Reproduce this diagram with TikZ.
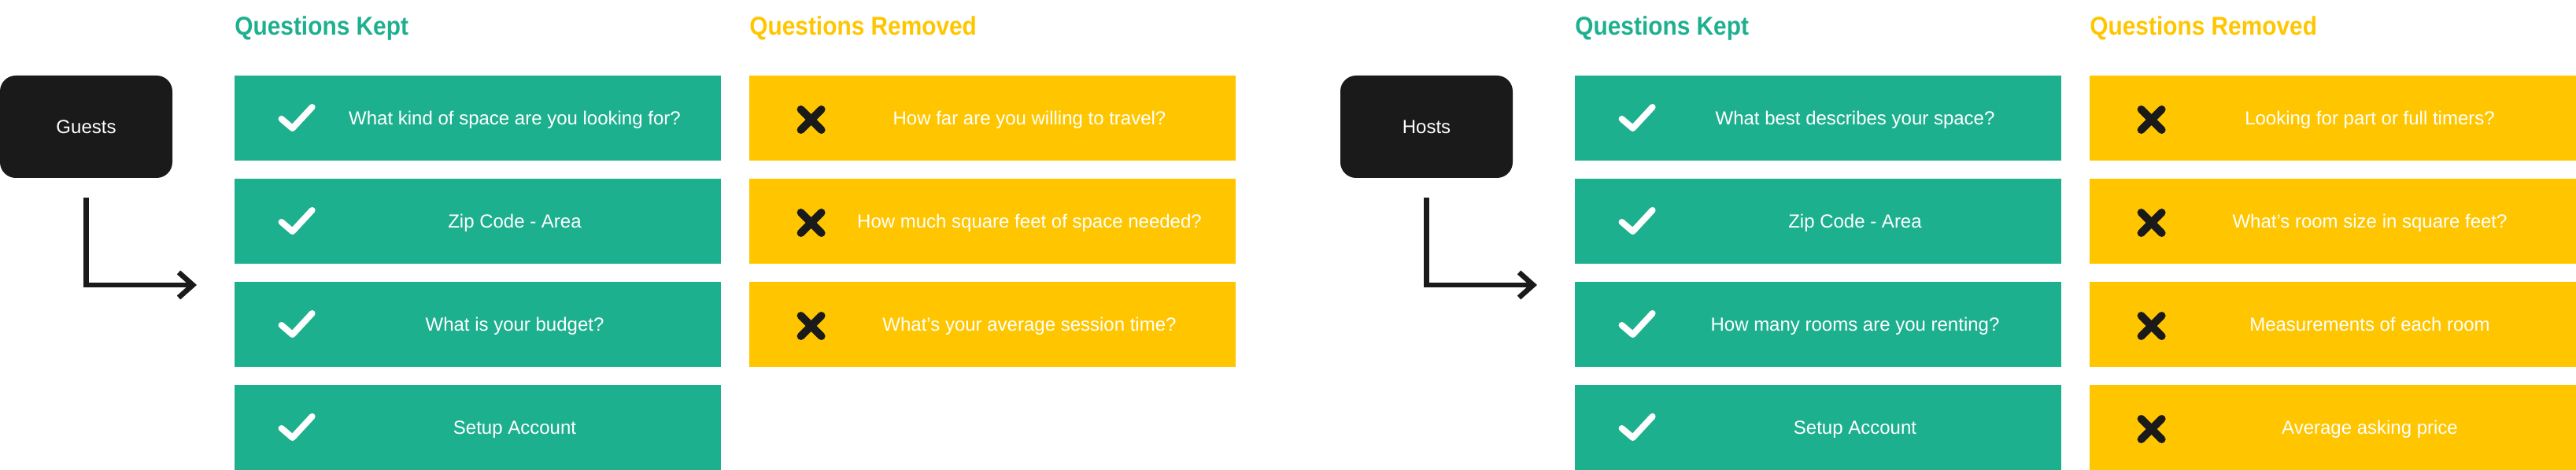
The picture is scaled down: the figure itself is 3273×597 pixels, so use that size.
\documentclass[tikz,border=0pt]{standalone}
\usepackage{fontspec}
\setmainfont{Liberation Sans}
\newfontfamily\headfont{Liberation Sans}[FakeStretch=0.91]
\usetikzlibrary{arrows.meta}

\definecolor{keptgreen}{HTML}{1DB08F}
\definecolor{dropyellow}{HTML}{FFC600}
\definecolor{boxblack}{HTML}{1A1A1A}

\begin{document}
\begin{tikzpicture}[x=0.5pt, y=-0.5pt,
		keptbox/.style={rectangle, fill=keptgreen, minimum width=309pt, minimum height=54pt, inner sep=0pt},
		dropbox/.style={rectangle, fill=dropyellow, minimum width=309pt, minimum height=54pt, inner sep=0pt},
		userbox/.style={rectangle, rounded corners=10pt, fill=boxblack, text=white, minimum width=109.5pt, minimum height=65pt, font=\fontsize{12}{14}\selectfont},
		qtext/.style={anchor=base, text=white, inner sep=0pt, font=\fontsize{12}{14}\selectfont},
		heading/.style={anchor=base west, inner sep=0pt, font=\headfont\bfseries\fontsize{16.4}{18}\selectfont},
		tick/.style={white, line width=4pt, line cap=round, line join=round},
		cross/.style={boxblack, line width=5pt, line cap=round},
		flow/.style={boxblack, line width=3.3pt, -{Straight Barb[length=9pt, width=16pt]}}]

		\fill[white] (0,0) rectangle (3273,597);
		\useasboundingbox (0,0) rectangle (3273,597);

		% guests: user box and headings
		\node[userbox] (guests) at (109.5,161) {Guests};
		\node[heading, text=keptgreen] (gkept) at (298,45) {Questions Kept};
		\node[heading, text=dropyellow] (gdrop) at (952,45) {Questions Removed};

		% guests: questions kept
		\node[keptbox] (gk1) at (607,150) {};
		\node[keptbox] (gk2) at (607,281) {};
		\node[keptbox] (gk3) at (607,412) {};
		\node[keptbox] (gk4) at (607,543) {};
		\node[qtext] at ([shift={(47,9)}]gk1.center) {What kind of space are you looking for?};
		\node[qtext] at ([shift={(47,9)}]gk2.center) {Zip Code - Area};
		\node[qtext] at ([shift={(47,9)}]gk3.center) {What is your budget?};
		\node[qtext] at ([shift={(47,9)}]gk4.center) {Setup Account};
		\draw[tick] ([shift={(60,1)}]gk1.west) -- ++(14,12) -- ++(25,-27);
		\draw[tick] ([shift={(60,1)}]gk2.west) -- ++(14,12) -- ++(25,-27);
		\draw[tick] ([shift={(60,1)}]gk3.west) -- ++(14,12) -- ++(25,-27);
		\draw[tick] ([shift={(60,1)}]gk4.west) -- ++(14,12) -- ++(25,-27);

		% guests: questions removed
		\node[dropbox] (gd1) at (1261,150) {};
		\node[dropbox] (gd2) at (1261,281) {};
		\node[dropbox] (gd3) at (1261,412) {};
		\node[qtext] at ([shift={(47,9)}]gd1.center) {How far are you willing to travel?};
		\node[qtext] at ([shift={(47,9)}]gd2.center) {How much square feet of space needed?};
		\node[qtext] at ([shift={(47,9)}]gd3.center) {What's your average session time?};
		\draw[cross] ([shift={(66,-11)}]gd1.west) -- ++(26,26) ([shift={(66,15)}]gd1.west) -- ++(26,-26);
		\draw[cross] ([shift={(66,-11)}]gd2.west) -- ++(26,26) ([shift={(66,15)}]gd2.west) -- ++(26,-26);
		\draw[cross] ([shift={(66,-11)}]gd3.west) -- ++(26,26) ([shift={(66,15)}]gd3.west) -- ++(26,-26);

		% guests: arrow
		\coordinate (gstart) at ([yshift=-12.5pt]guests.south);
		\coordinate (gend) at (250,362);
		\draw[flow] (gstart) |- (gend);

		% hosts: user box and headings
		\node[userbox] (hosts) at (1812.5,161) {Hosts};
		\node[heading, text=keptgreen] (hkept) at (2001,45) {Questions Kept};
		\node[heading, text=dropyellow] (hdrop) at (2655,45) {Questions Removed};

		% hosts: questions kept
		\node[keptbox] (hk1) at (2310,150) {};
		\node[keptbox] (hk2) at (2310,281) {};
		\node[keptbox] (hk3) at (2310,412) {};
		\node[keptbox] (hk4) at (2310,543) {};
		\node[qtext] at ([shift={(47,9)}]hk1.center) {What best describes your space?};
		\node[qtext] at ([shift={(47,9)}]hk2.center) {Zip Code - Area};
		\node[qtext] at ([shift={(47,9)}]hk3.center) {How many rooms are you renting?};
		\node[qtext] at ([shift={(47,9)}]hk4.center) {Setup Account};
		\draw[tick] ([shift={(60,1)}]hk1.west) -- ++(14,12) -- ++(25,-27);
		\draw[tick] ([shift={(60,1)}]hk2.west) -- ++(14,12) -- ++(25,-27);
		\draw[tick] ([shift={(60,1)}]hk3.west) -- ++(14,12) -- ++(25,-27);
		\draw[tick] ([shift={(60,1)}]hk4.west) -- ++(14,12) -- ++(25,-27);

		% hosts: questions removed
		\node[dropbox] (hd1) at (2964,150) {};
		\node[dropbox] (hd2) at (2964,281) {};
		\node[dropbox] (hd3) at (2964,412) {};
		\node[dropbox] (hd4) at (2964,543) {};
		\node[qtext] at ([shift={(47,9)}]hd1.center) {Looking for part or full timers?};
		\node[qtext] at ([shift={(47,9)}]hd2.center) {What's room size in square feet?};
		\node[qtext] at ([shift={(47,9)}]hd3.center) {Measurements of each room};
		\node[qtext] at ([shift={(47,9)}]hd4.center) {Average asking price};
		\draw[cross] ([shift={(66,-11)}]hd1.west) -- ++(26,26) ([shift={(66,15)}]hd1.west) -- ++(26,-26);
		\draw[cross] ([shift={(66,-11)}]hd2.west) -- ++(26,26) ([shift={(66,15)}]hd2.west) -- ++(26,-26);
		\draw[cross] ([shift={(66,-11)}]hd3.west) -- ++(26,26) ([shift={(66,15)}]hd3.west) -- ++(26,-26);
		\draw[cross] ([shift={(66,-11)}]hd4.west) -- ++(26,26) ([shift={(66,15)}]hd4.west) -- ++(26,-26);

		% hosts: arrow
		\coordinate (hstart) at ([yshift=-12.5pt]hosts.south);
		\coordinate (hend) at (1953,362);
		\draw[flow] (hstart) |- (hend);
\end{tikzpicture}
\end{document}
